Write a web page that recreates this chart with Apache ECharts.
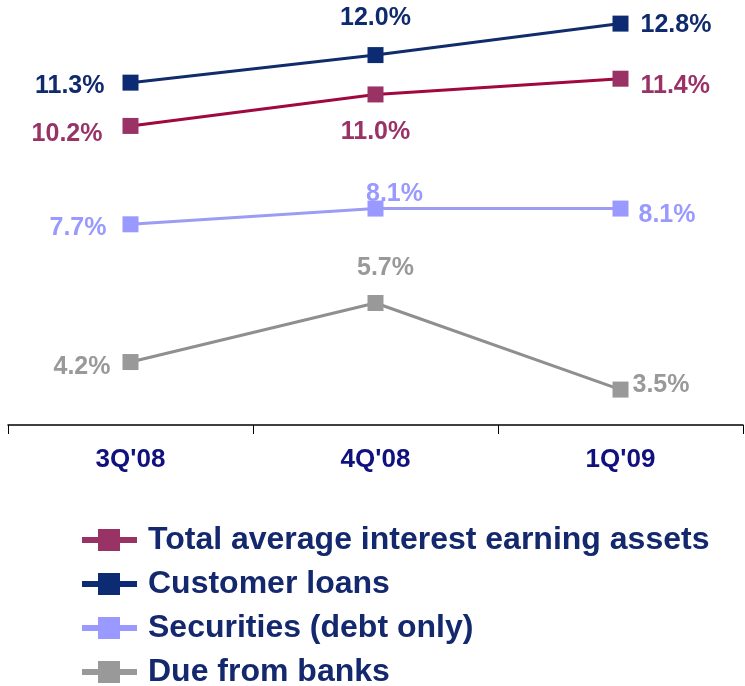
<!DOCTYPE html>
<html>
<head>
<meta charset="utf-8">
<script src="https://cdn.jsdelivr.net/npm/echarts@6/dist/echarts.min.js"></script>
<style>
    html, body { margin: 0; padding: 0; background: #fff; }
    #main { width: 745px; height: 686px; }
</style>
</head>
<body>
<div id="main"></div>
<script>
// 数据
var quarters = ["3Q'08", "4Q'08", "1Q'09"];
var totalAssets = [10.2, 11.0, 11.4];
var customerLoans = [11.3, 12.0, 12.8];
var securities = [7.7, 8.1, 8.1];
var dueFromBanks = [4.2, 5.7, 3.5];

// 标签位置 [position, offsetX, offsetY]
var totalPos = [['left', 0, 8], ['bottom', 0, 0], ['right', 0, 7]];
var loansPos = [['left', 0, 3], ['top', 0, 0], ['right', 0, 1]];
var secPos = [['left', 0, 4], ['top', 19, 8], ['right', 0, 7]];
var duePos = [['left', 0, 5], ['top', 10, 0], ['right', 0, -4]];

var legendIcon = 'path://M0,8 H16 V0 H38 V8 H55 V14 H38 V22 H16 V14 H0 Z';

function buildData(values, pos, dist) {
    var out = [];
    for (var i = 0; i < values.length; i++) {
        out.push({
            value: values[i],
            label: {
                position: pos[i][0],
                distance: dist[i],
                offset: [pos[i][1], pos[i][2]]
            }
        });
    }
    return out;
}

function makeSeries(name, values, pos, dist, lineColor, markColor, labelColor) {
    return {
        name: name,
        type: 'line',
        data: buildData(values, pos, dist),
        symbol: 'rect',
        symbolSize: 16,
        animation: false,
        lineStyle: { color: lineColor, width: 3 },
        itemStyle: { color: markColor },
        label: {
            show: true,
            color: labelColor,
            fontFamily: 'Liberation Sans, Arial',
            fontWeight: 'bold',
            fontSize: 25,
            formatter: function (p) {
                return p.value.toFixed(1) + '%';
            }
        }
    };
}

var chart = echarts.init(document.getElementById('main'));
chart.setOption({
    backgroundColor: '#fff',
    grid: { left: 8, right: 2, top: 0, bottom: 261 },
    xAxis: {
        type: 'category',
        data: quarters,
        boundaryGap: true,
        axisLine: { lineStyle: { color: '#000', width: 1.5 } },
        axisTick: { show: true, length: 9, lineStyle: { color: '#000' } },
        axisLabel: {
            color: '#10107f',
            fontFamily: 'Liberation Sans, Arial',
            fontWeight: 'bold',
            fontSize: 26,
            margin: 22
        }
    },
    yAxis: {
        type: 'value',
        min: 2.6,
        max: 13.4,
        show: false,
        splitLine: { show: false }
    },
    legend: {
        orient: 'vertical',
        left: 82,
        top: 524,
        height: 220,
        padding: 0,
        itemWidth: 55,
        itemHeight: 22,
        itemGap: 12,
        icon: legendIcon,
        selectedMode: false,
        textStyle: {
            color: '#14286e',
            fontFamily: 'Liberation Sans, Arial',
            fontWeight: 'bold',
            fontSize: 32,
            padding: [0, 0, 0, 6]
        },
        data: ['Total average interest earning assets', 'Customer loans',
            'Securities (debt only)', 'Due from banks']
    },
    series: [
        makeSeries('Total average interest earning assets', totalAssets, totalPos,
            [20, 17, 12], '#a0083f', '#993366', '#993366'),
        makeSeries('Customer loans', customerLoans, loansPos,
            [18, 16, 12], '#122b6b', '#0d2b73', '#102a6e'),
        makeSeries('Securities (debt only)', securities, secPos,
            [16, 2, 10], '#9c9cf5', '#9999ff', '#9999ff'),
        makeSeries('Due from banks', dueFromBanks, duePos,
            [12, 14, 4], '#8f8f8f', '#999999', '#999999')
    ]
});
</script>
</body>
</html>
